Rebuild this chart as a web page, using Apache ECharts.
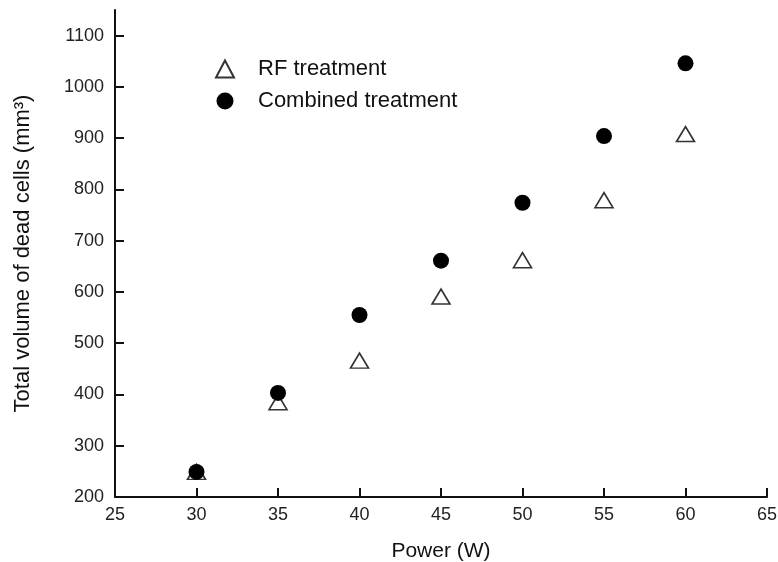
<!DOCTYPE html>
<html>
<head>
<meta charset="utf-8">
<script src="https://cdn.jsdelivr.net/npm/echarts@6/dist/echarts.min.js"></script>
<style>html,body{margin:0;padding:0;background:#fff}#c{width:778px;height:562px}</style>
</head>
<body>
<div id="c"></div>
<script>
const powers = [30, 35, 40, 45, 50, 55, 60];
const rfValues = [249, 385, 466, 591, 662, 779, 908];
const combinedValues = [249, 403, 555, 661, 774, 904, 1046];
const yTicks = [200, 300, 400, 500, 600, 700, 800, 900, 1000, 1100];
const xTicks = [25, 30, 35, 40, 45, 50, 55, 60, 65];

const chart = echarts.init(document.getElementById('c'));
const font = 'Liberation Sans, Arial, sans-serif';
chart.setOption({
  animation: false,
  backgroundColor: '#fff',
  grid: {left: 115, right: 11, top: 10, bottom: 65, containLabel: false, outerBoundsMode: 'none'},
  legend: {
    orient: 'vertical', left: 210, top: 53, itemGap: 10,
    itemWidth: 18, itemHeight: 17,
    textStyle: {fontFamily: font, fontSize: 22, color: '#111', padding: [0, 0, 0, 19]},
    data: ['RF treatment', 'Combined treatment']
  },
  xAxis: {
    type: 'value', min: 25, max: 65, interval: 5,
    name: 'Power (W)', nameLocation: 'middle', nameGap: 44,
    nameTextStyle: {fontFamily: font, fontSize: 21, color: '#111'},
    axisLine: {lineStyle: {color: '#111', width: 2}},
    axisTick: {inside: true, length: 9, lineStyle: {color: '#111', width: 2}, customValues: xTicks},
    axisLabel: {fontFamily: font, fontSize: 18, color: '#222', margin: 9, customValues: xTicks,
      formatter: v => String(v)},
    splitLine: {show: false}
  },
  yAxis: {
    type: 'value', min: 200, max: 1150, interval: 100,
    name: 'Total volume of dead cells (mm³)', nameLocation: 'middle', nameGap: 81,
    nameTextStyle: {fontFamily: font, fontSize: 22, color: '#111'},
    axisLine: {lineStyle: {color: '#111', width: 2}},
    axisTick: {inside: true, length: 9, lineStyle: {color: '#111', width: 2}, customValues: yTicks},
    axisLabel: {fontFamily: font, fontSize: 18, color: '#222', margin: 11, customValues: yTicks,
      formatter: v => String(v)},
    splitLine: {show: false}
  },
  series: [
    {
      name: 'RF treatment', type: 'scatter', symbol: 'triangle', symbolSize: [18, 15],
      itemStyle: {color: '#fff', borderColor: '#333', borderWidth: 1.6, opacity: 1},
      data: powers.map((p, i) => [p, rfValues[i]]), z: 2
    },
    {
      name: 'Combined treatment', type: 'scatter', symbol: 'circle', symbolSize: 16,
      itemStyle: {color: '#000', opacity: 1},
      data: powers.map((p, i) => [p, combinedValues[i]]), z: 3
    }
  ]
});
</script>
</body>
</html>
